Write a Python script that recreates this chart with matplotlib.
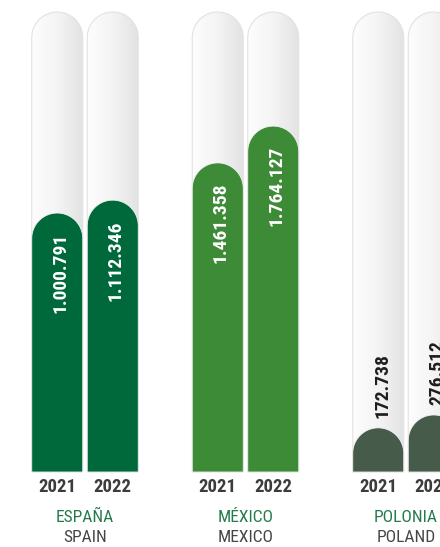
import numpy as np
import matplotlib
matplotlib.use('Agg')
from matplotlib import pyplot as plt
from matplotlib.path import Path
from matplotlib.patches import PathPatch
from matplotlib.colors import LinearSegmentedColormap

# data read from the infographic
countries = ['ESPAÑA', 'MÉXICO', 'POLONIA']
countries_en = ['SPAIN', 'MEXICO', 'POLAND']
years = ['2021', '2022']
values = [[1000791, 1112346], [1461358, 1764127], [172738, 276512]]
# fill level of each track (fraction of track height, the graphic is not to scale)
fill = [[0.563, 0.591], [0.672, 0.752], [0.096, 0.124]]
bar_colors = ['#00693c', '#3d8b37', '#465b4a']

plt.rcParams['font.family'] = ['Roboto Condensed', 'Roboto', 'DejaVu Sans']

W, H = 440, 547
track_px = 460.0
fig = plt.figure(figsize=(W / 100, H / 100), dpi=100)
ax = fig.add_axes([0, 0, 1, 1])
ax.set_xlim(0, W)
ax.set_ylim(-(H - 472) / track_px, 472 / track_px)
ax.axis('off')

bar_w = 51
half = bar_w / 2
ry = half / track_px
grad = LinearSegmentedColormap.from_list('g', ['#fdfdfd', '#f4f4f4', '#e3e3e3'])


def rounded_top(xc, h):
    t = np.linspace(np.pi, 0, 40)
    top = h - ry
    verts = [(xc - half, 0), (xc - half, top)]
    verts += list(zip(xc + half * np.cos(t), top + ry * np.sin(t)))
    verts += [(xc + half, 0), (xc - half, 0)]
    codes = [Path.MOVETO] + [Path.LINETO] * (len(verts) - 2) + [Path.CLOSEPOLY]
    return Path(verts, codes)


def fmt(v):
    return f'{v:,}'.replace(',', '.')


for i, c in enumerate(countries):
    gc = 85 + 160.5 * i
    for j, yr in enumerate(years):
        xc = gc + (j - 0.5) * 55.5
        # background track
        tp = PathPatch(rounded_top(xc, 1.0), facecolor='none', edgecolor='#e2e2e2', lw=0.8, zorder=2)
        ax.add_patch(tp)
        im = ax.imshow(np.linspace(0, 1, 50).reshape(1, -1), cmap=grad, aspect='auto',
                       extent=(xc - half, xc + half, 0, 1.0), zorder=1)
        im.set_clip_path(tp)
        # filled bar
        h = fill[i][j]
        ax.add_patch(PathPatch(rounded_top(xc, h), facecolor=bar_colors[i],
                               edgecolor='#f2f2f2', lw=0.6, zorder=3))
        if h > 0.3:
            ax.text(xc + 3, h - 20 / track_px, fmt(values[i][j]), rotation=90, ha='center',
                    va='top', color='white', fontsize=14, fontweight='bold', zorder=4)
        else:
            ax.text(xc + 4, h + 10 / track_px, fmt(values[i][j]), rotation=90, ha='center',
                    va='bottom', color='#1e1e1e', fontsize=14, fontweight='bold', zorder=4)
        ax.text(xc, -15 / track_px, yr, ha='center', va='center', color='#3c3c3c',
                fontsize=13.5, fontweight='bold')
    ax.text(gc, -45 / track_px, c, ha='center', va='center', color='#237a4b', fontsize=12.5)
    ax.text(gc, -66 / track_px, countries_en[i], ha='center', va='center', color='#454545',
            fontsize=12.5)

fig.savefig('out.png', dpi=100)
